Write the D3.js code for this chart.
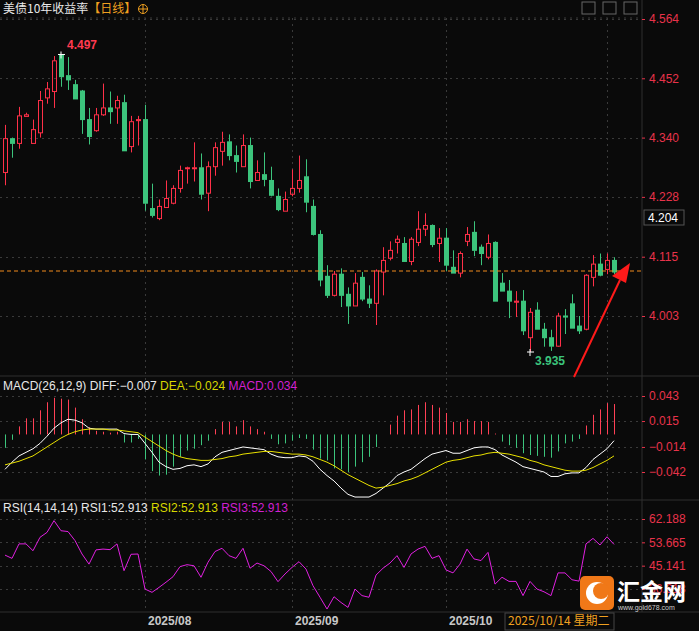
<!DOCTYPE html>
<html><head><meta charset="utf-8">
<script src="https://cdn.jsdelivr.net/npm/d3@7"></script>
<style>body{margin:0;background:#0a0a0a;}svg{display:block;font-family:"Noto Sans CJK SC","DejaVu Sans",sans-serif;}</style>
</head><body><svg id="c" width="699" height="631"></svg>
<script>
const openV=[4.274,4.338,4.329,4.380,4.329,4.349,4.415,4.427,4.496,4.457,4.440,4.428,4.374,4.353,4.383,4.396,4.396,4.406,4.323,4.372,4.374,4.206,4.187,4.208,4.216,4.244,4.282,4.282,4.283,4.235,4.285,4.314,4.332,4.306,4.285,4.325,4.259,4.270,4.259,4.229,4.201,4.233,4.244,4.266,4.210,4.157,4.078,4.042,4.082,4.044,4.022,4.076,4.035,4.027,4.086,4.112,4.142,4.140,4.106,4.142,4.167,4.174,4.140,4.150,4.095,4.084,4.144,4.161,4.133,4.114,4.142,4.065,4.050,4.029,4.031,3.962,4.014,3.978,3.962,3.946,4.003,4.026,3.984,3.978,4.076,4.101,4.091,4.108];
const closeV=[4.338,4.329,4.381,4.383,4.355,4.410,4.432,4.485,4.455,4.449,4.413,4.374,4.342,4.383,4.396,4.389,4.410,4.315,4.370,4.374,4.216,4.193,4.210,4.225,4.244,4.278,4.283,4.283,4.233,4.285,4.321,4.331,4.306,4.295,4.325,4.257,4.274,4.261,4.231,4.204,4.223,4.244,4.259,4.218,4.157,4.071,4.042,4.082,4.042,4.022,4.065,4.035,4.027,4.088,4.108,4.127,4.148,4.106,4.148,4.167,4.174,4.138,4.150,4.099,4.084,4.121,4.157,4.127,4.121,4.140,4.031,4.050,4.031,4.031,3.975,4.010,3.978,3.962,3.946,4.003,4.001,3.980,3.975,4.080,4.101,4.080,4.108,4.086];
const highV=[4.364,4.340,4.398,4.387,4.374,4.428,4.445,4.494,4.497,4.492,4.449,4.430,4.396,4.396,4.442,4.427,4.419,4.421,4.381,4.381,4.402,4.253,4.223,4.259,4.250,4.287,4.285,4.331,4.310,4.295,4.331,4.351,4.346,4.325,4.346,4.340,4.297,4.312,4.285,4.244,4.238,4.280,4.306,4.299,4.223,4.165,4.099,4.088,4.093,4.057,4.084,4.086,4.061,4.091,4.133,4.144,4.155,4.152,4.152,4.201,4.197,4.176,4.169,4.169,4.127,4.125,4.171,4.182,4.138,4.157,4.144,4.084,4.071,4.050,4.052,4.018,4.029,3.990,3.977,4.009,4.016,4.044,4.003,4.082,4.118,4.121,4.121,4.114];
const lowV=[4.250,4.302,4.319,4.380,4.329,4.340,4.404,4.396,4.436,4.430,4.413,4.347,4.327,4.351,4.381,4.366,4.366,4.315,4.312,4.325,4.202,4.189,4.184,4.208,4.214,4.236,4.253,4.257,4.223,4.201,4.268,4.287,4.297,4.274,4.285,4.244,4.259,4.248,4.229,4.201,4.201,4.229,4.236,4.199,4.155,4.059,4.037,4.040,4.020,3.988,4.022,4.031,4.018,3.986,4.042,4.108,4.121,4.105,4.099,4.135,4.154,4.133,4.105,4.088,4.084,4.076,4.135,4.116,4.099,4.110,4.031,4.050,3.999,4.001,3.967,3.935,3.978,3.945,3.937,3.945,3.969,3.980,3.969,3.976,4.059,4.078,4.082,4.082];
const macdHist=[-0.015,-0.006,0.009,0.018,0.018,0.027,0.036,0.041,0.040,0.039,0.030,0.017,0.008,0.004,0.003,0.002,0.003,-0.009,-0.009,-0.005,-0.028,-0.041,-0.046,-0.045,-0.036,-0.025,-0.018,-0.016,-0.012,-0.007,0.006,0.014,0.014,0.009,0.016,0.009,0.006,0.003,-0.005,-0.011,-0.010,-0.007,-0.004,-0.005,-0.017,-0.027,-0.029,-0.038,-0.039,-0.042,-0.036,-0.031,-0.025,-0.014,0.000,0.011,0.021,0.027,0.028,0.033,0.036,0.033,0.030,0.024,0.014,0.014,0.017,0.015,0.015,0.014,0.001,-0.008,-0.012,-0.015,-0.021,-0.023,-0.024,-0.025,-0.026,-0.019,-0.010,-0.008,-0.005,0.010,0.022,0.028,0.035,0.034];
const diffV=[-0.039,-0.031,-0.024,-0.020,-0.016,-0.010,-0.002,0.007,0.013,0.017,0.016,0.013,0.007,0.006,0.006,0.006,0.006,0.001,0.000,0.000,-0.010,-0.020,-0.031,-0.036,-0.039,-0.038,-0.035,-0.034,-0.036,-0.033,-0.025,-0.020,-0.018,-0.016,-0.014,-0.015,-0.016,-0.017,-0.022,-0.025,-0.026,-0.026,-0.024,-0.025,-0.030,-0.039,-0.046,-0.052,-0.060,-0.067,-0.070,-0.070,-0.070,-0.066,-0.060,-0.054,-0.046,-0.042,-0.039,-0.033,-0.027,-0.022,-0.020,-0.018,-0.021,-0.021,-0.018,-0.015,-0.014,-0.014,-0.017,-0.023,-0.027,-0.031,-0.036,-0.038,-0.040,-0.042,-0.047,-0.047,-0.044,-0.043,-0.043,-0.037,-0.028,-0.022,-0.016,-0.007];
const deaV=[-0.034,-0.032,-0.030,-0.027,-0.024,-0.019,-0.014,-0.009,-0.004,0.000,0.003,0.005,0.006,0.006,0.006,0.005,0.005,0.004,0.003,0.002,-0.003,-0.008,-0.013,-0.018,-0.022,-0.025,-0.027,-0.028,-0.029,-0.029,-0.028,-0.027,-0.025,-0.024,-0.022,-0.021,-0.020,-0.019,-0.019,-0.020,-0.021,-0.022,-0.022,-0.023,-0.025,-0.028,-0.031,-0.035,-0.040,-0.045,-0.049,-0.053,-0.057,-0.060,-0.059,-0.057,-0.055,-0.052,-0.050,-0.047,-0.043,-0.039,-0.035,-0.031,-0.029,-0.028,-0.026,-0.024,-0.023,-0.021,-0.020,-0.021,-0.022,-0.024,-0.026,-0.029,-0.031,-0.034,-0.036,-0.038,-0.040,-0.041,-0.041,-0.040,-0.037,-0.033,-0.029,-0.024];
const rsiV=[49.0,47.8,53.1,53.1,50.6,55.5,57.3,61.6,57.9,57.6,54.3,49.4,45.7,50.9,51.2,51.0,53.1,43.3,49.3,49.4,36.6,35.4,37.2,39.1,41.1,44.8,45.5,45.1,40.9,46.4,50.3,51.5,48.8,47.8,51.5,44.2,46.1,45.1,43.0,39.3,42.1,44.5,46.6,43.9,37.8,33.6,29.3,33.8,31.7,29.9,36.6,34.2,33.6,41.7,44.2,46.1,48.8,44.5,49.4,51.2,52.2,47.8,48.8,43.6,42.5,45.7,51.2,47.6,47.0,50.0,38.4,40.9,39.4,39.4,34.2,39.4,36.6,35.6,34.2,42.5,42.5,40.0,39.5,53.1,55.1,52.7,55.7,52.913];
const priceTicks=[4.564,4.452,4.340,4.228,4.115,4.003];
const macdTicks=[0.043,0.015,-0.014,-0.042];
const rsiTicks=[62.188,53.665,45.141,36.618];
const monthLabels=[{i:20,t:"2025/08"},{i:41,t:"2025/09"},{i:63,t:"2025/10"}];
const hoverIndex=86, hoverLabel="2025/10/14 星期二";
const lastPrice=4.088, markPrice=4.204;

const svg=d3.select("#c");
const W=699, plotR=642;
const UP="#ff3048", DN="#3cc47c", AX="#e8334a", GRID="#3a3a3a";
const F="Liberation Sans, Arial";
svg.append("rect").attr("width",W).attr("height",631).attr("fill","#0a0a0a");
const x=d3.scaleLinear().domain([0,87]).range([5,614]);
const y=d3.scaleLinear().domain([4.003,4.564]).range([316,19]);
const ym=d3.scaleLinear().domain([-0.042,0.043]).range([472,396]);
const yr=d3.scaleLinear().domain([36.618,62.188]).range([589,519]);

[376,500,612].forEach(b=>svg.append("line").attr("x1",0).attr("x2",W).attr("y1",b).attr("y2",b).attr("stroke","#2e2e2e"));
svg.append("line").attr("x1",plotR).attr("x2",plotR).attr("y1",0).attr("y2",612).attr("stroke","#2e2e2e");
svg.append("line").attr("x1",0).attr("x2",plotR).attr("y1",18).attr("y2",18).attr("stroke",GRID).attr("stroke-dasharray","2,4");
function hgrid(scale,ticks){ticks.forEach(t=>svg.append("line").attr("x1",0).attr("x2",plotR).attr("y1",Math.round(scale(t))+.5).attr("y2",Math.round(scale(t))+.5).attr("stroke",GRID).attr("stroke-dasharray","2,4"));}
hgrid(y,priceTicks);hgrid(ym,macdTicks);hgrid(yr,rsiTicks);
monthLabels.concat([{i:hoverIndex}]).forEach(m=>svg.append("line").attr("x1",Math.round(x(m.i))+.5).attr("x2",Math.round(x(m.i))+.5).attr("y1",18).attr("y2",612).attr("stroke",GRID).attr("stroke-dasharray","2,4"));

const axG=svg.append("g").attr("transform",`translate(${plotR},0)`);
function axis(scale,ticks,fmt){const g=axG.append("g").call(d3.axisRight(scale).tickValues(ticks).tickFormat(fmt).tickSize(3).tickPadding(4));
 g.select(".domain").remove(); g.selectAll("line").attr("stroke",AX); g.selectAll("text").attr("fill",AX).attr("font-size",12).attr("font-family",F);}
axis(y,priceTicks,d3.format(".3f"));axis(ym,macdTicks,d3.format(".3f"));axis(yr,rsiTicks,d3.format(".3f"));

const idx=d3.range(openV.length);
const cg=svg.append("g");
idx.forEach(i=>{const up=closeV[i]>=openV[i];const col=up?UP:DN;const cx=Math.round(x(i))+.5;
 const top=y(Math.max(openV[i],closeV[i])), bot=y(Math.min(openV[i],closeV[i]));
 cg.append("line").attr("x1",cx).attr("x2",cx).attr("y1",y(highV[i])).attr("y2",top).attr("stroke",col);
 cg.append("line").attr("x1",cx).attr("x2",cx).attr("y1",bot).attr("y2",y(lowV[i])).attr("stroke",col);
 const h=Math.max(1,bot-top);
 if(up) cg.append("rect").attr("x",cx-2).attr("y",top).attr("width",4).attr("height",h).attr("fill","none").attr("stroke",col);
 else cg.append("rect").attr("x",cx-2.5).attr("y",top-.5).attr("width",5).attr("height",h+1).attr("fill",col);
});
svg.append("line").attr("x1",0).attr("x2",plotR).attr("y1",y(lastPrice)).attr("y2",y(lastPrice)).attr("stroke","#f08a1c").attr("stroke-dasharray","4,3");
const markY=218;
svg.append("rect").attr("x",plotR+2).attr("y",markY-8).attr("width",40).attr("height",15).attr("fill","#0a0a0a").attr("stroke","#555");
svg.append("text").attr("x",plotR+6).attr("y",markY+4).attr("fill","#ffffff").attr("font-size",12).attr("font-family",F).text(d3.format(".3f")(markPrice));
const iMax=d3.maxIndex(highV), iMin=d3.minIndex(lowV);
function cross(px,py){svg.append("path").attr("d",`M${px-3},${py}h7M${px},${py-3}v7`).attr("stroke","#fff");}
cross(x(iMax),y(highV[iMax]));cross(x(iMin),y(lowV[iMin]));
svg.append("text").attr("x",x(iMax)+6).attr("y",y(highV[iMax])-5).attr("fill","#ff3a50").attr("font-size",12).attr("font-weight","bold").attr("font-family",F).text(d3.format(".3f")(highV[iMax]));
svg.append("text").attr("x",x(iMin)+5).attr("y",y(lowV[iMin])+13).attr("fill","#3cc47c").attr("font-size",12).attr("font-weight","bold").attr("font-family",F).text(d3.format(".3f")(lowV[iMin]));
svg.append("line").attr("x1",574).attr("y1",377).attr("x2",620).attr("y2",280).attr("stroke","#ff1a1a").attr("stroke-width",2);
svg.append("path").attr("d","M630,263 L612,276 L626,283 Z").attr("fill","#ff1a1a");

const t=svg.append("text").attr("x",3).attr("y",13).attr("font-size",12);
t.append("tspan").attr("fill","#e8e8e8").text("美债10年收益率");
t.append("tspan").attr("fill","#f0a020").text("【日线】");
svg.append("circle").attr("cx",143).attr("cy",9).attr("r",4.5).attr("fill","none").attr("stroke","#f0a020");
svg.append("path").attr("d","M138.5,9h9M143,4.5v9").attr("stroke","#f0a020");
[582,603,624].forEach(px=>svg.append("rect").attr("x",px).attr("y",2).attr("width",13).attr("height",12).attr("fill","none").attr("stroke","#666"));

const hg=svg.append("g");
idx.forEach(i=>{const v=macdHist[i];const cx=Math.round(x(i))+.5;hg.append("line").attr("x1",cx).attr("x2",cx).attr("y1",ym(0)).attr("y2",ym(v)).attr("stroke",v>=0?"#ff4055":"#3cc47c");});
const lm=d3.line().x((d,i)=>x(i)).y(d=>ym(d));
svg.append("path").attr("d",lm(diffV)).attr("fill","none").attr("stroke","#ffffff");
svg.append("path").attr("d",lm(deaV)).attr("fill","none").attr("stroke","#e8e000");
const mt=svg.append("text").attr("x",3).attr("y",390).attr("font-size",12).attr("font-family",F);
mt.append("tspan").attr("fill","#e8e8e8").text("MACD(26,12,9) DIFF:"+d3.format(".3f")(diffV[87])+"  ");
mt.append("tspan").attr("fill","#d8d800").text("DEA:"+d3.format(".3f")(deaV[87])+"  ");
mt.append("tspan").attr("fill","#d020d0").text("MACD:"+d3.format(".3f")(macdHist[87]));

const lr=d3.line().x((d,i)=>x(i)).y(d=>yr(d));
svg.append("path").attr("d",lr(rsiV)).attr("fill","none").attr("stroke","#e020e0");
const rl=d3.format(".3f")(rsiV[87]);
const rt=svg.append("text").attr("x",3).attr("y",512).attr("font-size",12).attr("font-family",F);
rt.append("tspan").attr("fill","#e8e8e8").text("RSI(14,14,14) RSI1:"+rl+"  ");
rt.append("tspan").attr("fill","#d8d800").text("RSI2:"+rl+"  ");
rt.append("tspan").attr("fill","#d020d0").text("RSI3:"+rl);

monthLabels.forEach(m=>svg.append("text").attr("x",x(m.i)+3).attr("y",625).attr("fill","#c8c8c8").attr("font-size",12).attr("font-weight","bold").attr("font-family",F).text(m.t));
svg.append("rect").attr("x",505).attr("y",613).attr("width",109).attr("height",17).attr("fill","#0a0a0a").attr("stroke","#444");
svg.append("text").attr("x",508).attr("y",625).attr("fill","#f0a020").attr("font-size",12).text(hoverLabel);

svg.append("rect").attr("x",580).attr("y",576).attr("width",34).attr("height",34).attr("rx",5).attr("fill","#f07818");
svg.append("circle").attr("cx",597).attr("cy",593).attr("r",11).attr("fill","#fff");
svg.append("circle").attr("cx",601).attr("cy",591).attr("r",8).attr("fill","#f07818");
svg.append("text").attr("x",617).attr("y",600).attr("fill","#ffffff").attr("font-size",23).attr("font-weight","bold").text("汇金网");
svg.append("text").attr("x",618).attr("y",610).attr("fill","#cccccc").attr("font-size",7).attr("font-family",F).text("www.gold678.com");
</script></body></html>
